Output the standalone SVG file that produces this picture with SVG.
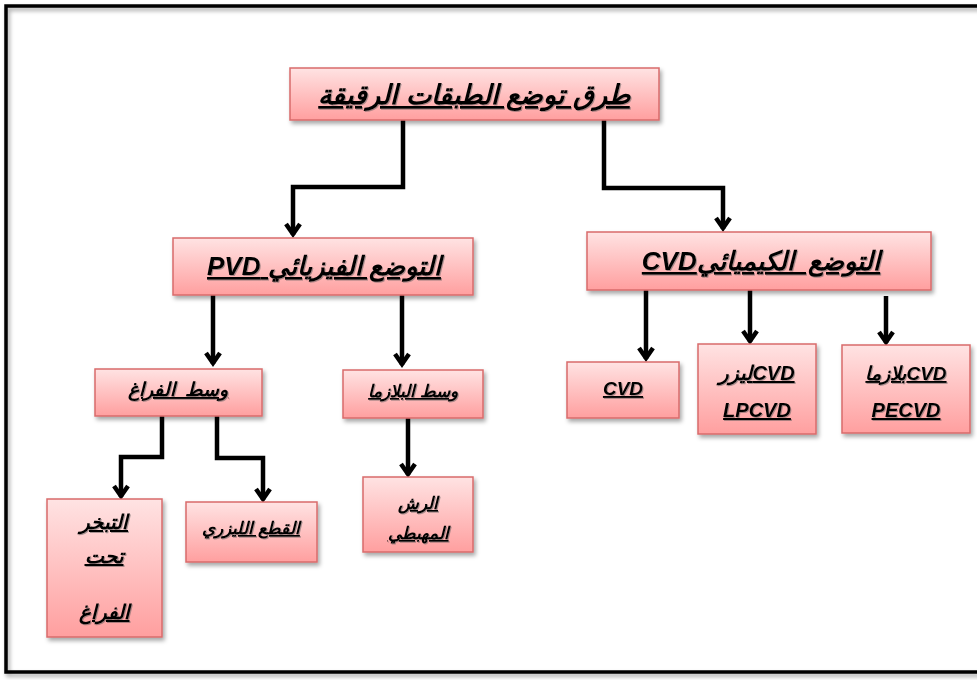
<svg xmlns="http://www.w3.org/2000/svg" width="977" height="680" viewBox="0 0 977 680">
<defs>
<linearGradient id="g" x1="0" y1="0" x2="0" y2="1">
<stop offset="0" stop-color="#ffe3e3"/>
<stop offset="1" stop-color="#ff9f9f"/>
</linearGradient>
<filter id="sh" x="-10%" y="-10%" width="130%" height="140%">
<feDropShadow dx="2" dy="3" stdDeviation="2" flood-color="#000" flood-opacity="0.35"/>
</filter>
<filter id="tsh" x="-5%" y="-20%" width="110%" height="140%">
<feDropShadow dx="1" dy="1" stdDeviation="0.6" flood-color="#555" flood-opacity="0.5"/>
</filter>
<marker id="ah" markerUnits="userSpaceOnUse" markerWidth="20" markerHeight="20" refX="0" refY="0" viewBox="-14 -10 20 20" orient="auto" overflow="visible">
<path d="M-11,-7 L-1,0 L-11,7" fill="none" stroke="#000" stroke-width="4.5" stroke-linejoin="miter"/>
</marker>
<style>
.box{fill:url(#g);stroke:#d96b6b;stroke-width:1.5;filter:url(#sh)}
.t{font-family:'Liberation Sans','DejaVu Sans',sans-serif;font-weight:bold;font-style:italic;fill:#000;text-anchor:middle;direction:rtl;text-decoration:underline;filter:url(#tsh)}
.c{fill:none;stroke:#000;stroke-width:4.5;stroke-linejoin:miter}
</style>
</defs>
<rect width="977" height="680" fill="#fff"/>
<path d="M985,6 L6,6 L6,672 L985,672" fill="none" stroke="#000" stroke-width="3.5" filter="url(#sh)"/>

<g id="connectors">
<path class="c" d="M403,120 V187 H293 V235" marker-end="url(#ah)"/>
<path class="c" d="M604,120 V188 H723 V229" marker-end="url(#ah)"/>
<path class="c" d="M213,295 V364" marker-end="url(#ah)"/>
<path class="c" d="M402,295 V365" marker-end="url(#ah)"/>
<path class="c" d="M646,290 V359" marker-end="url(#ah)"/>
<path class="c" d="M750,290 V342" marker-end="url(#ah)"/>
<path class="c" d="M886,296 V343" marker-end="url(#ah)"/>
<path class="c" d="M162,416 V457 H121 V497" marker-end="url(#ah)"/>
<path class="c" d="M217,416 V458 H263 V500" marker-end="url(#ah)"/>
<path class="c" d="M408,418 V475" marker-end="url(#ah)"/>
</g>

<g id="root">
<rect class="box" x="290" y="68" width="369" height="52"/>
<text class="t" x="474" y="104" font-size="27">طرق توضع الطبقات الرقيقة</text>
</g>
<g id="pvd">
<rect class="box" x="173" y="238" width="300" height="57"/>
<text class="t" x="324" y="275" font-size="26">التوضع الفيزيائي PVD</text>
</g>
<g id="cvd">
<rect class="box" x="587" y="232" width="344" height="58"/>
<text class="t" x="761" y="270" font-size="26" xml:space="preserve">التوضع  الكيميائيCVD</text>
</g>
<g id="vacuum">
<rect class="box" x="95" y="369" width="167" height="47"/>
<text class="t" x="178" y="396" font-size="19" xml:space="preserve">وسط  الفراغ</text>
</g>
<g id="plasma">
<rect class="box" x="343" y="370" width="140" height="48"/>
<text class="t" x="413" y="397" font-size="17">وسط البلازما</text>
</g>
<g id="cvd-simple">
<rect class="box" x="567" y="362" width="112" height="56"/>
<text class="t" x="623" y="395" font-size="19">CVD</text>
</g>
<g id="lpcvd">
<rect class="box" x="698" y="344" width="118" height="90"/>
<text class="t" x="757" y="380" font-size="20">CVDليزر</text>
<text class="t" x="757" y="417" font-size="20">LPCVD</text>
</g>
<g id="pecvd">
<rect class="box" x="842" y="345" width="128" height="88"/>
<text class="t" x="906" y="380" font-size="19">CVDبلازما</text>
<text class="t" x="906" y="417" font-size="20">PECVD</text>
</g>
<g id="evaporation">
<rect class="box" x="47" y="499" width="115" height="138"/>
<text class="t" x="104" y="529" font-size="20">التبخر</text>
<text class="t" x="104" y="563" font-size="20">تحت</text>
<text class="t" x="104" y="619" font-size="20">الفراغ</text>
</g>
<g id="laser">
<rect class="box" x="186" y="502" width="131" height="60"/>
<text class="t" x="251" y="534" font-size="17">القطع الليزري</text>
</g>
<g id="sputter">
<rect class="box" x="363" y="477" width="110" height="75"/>
<text class="t" x="418" y="509" font-size="17">الرش</text>
<text class="t" x="418" y="539" font-size="17">المهبطي</text>
</g>
</svg>
